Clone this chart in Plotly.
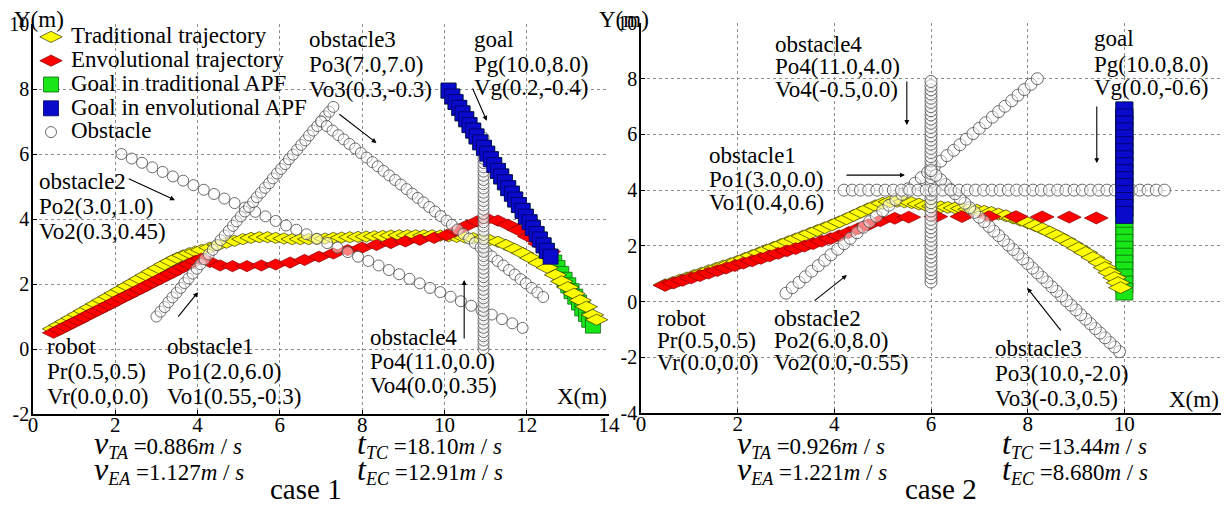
import plotly.graph_objects as go

# window is 1231x512; the html body adds an 8px margin on every side, so the figure is sized
# to fit inside the window without any scrolling
WIN_W, WIN_H, OFF = 1231, 512, 8
W, H = WIN_W - 2 * OFF, WIN_H - 2 * OFF

# ---------------- tick labels ----------------
C1_XTICKS = [0, 2, 4, 6, 8, 10, 12, 14]
C1_XTICK_LABELS = ["0", "2", "4", "6", "8", "10", "12", "14"]
C1_YTICKS = [-2, 0, 2, 4, 6, 8, 10]
C1_YTICK_LABELS = ["-2", "0", "2", "4", "6", "8", "10"]
C2_XTICKS = [0, 2, 4, 6, 8, 10, 12]
C2_XTICK_LABELS = ["0", "2", "4", "6", "8", "10", "12"]
C2_YTICKS = [-4, -2, 0, 2, 4, 6, 8, 10]
C2_YTICK_LABELS = ["-4", "-2", "0", "2", "4", "6", "8", "10"]

SERIES_NAMES = ["Traditional trajectory", "Envolutional trajectory",
                "Goal in traditional APF", "Goal in envolutional APF", "Obstacle"]

# ---------------- case 1 data ----------------
C1_TRAD_X = [0.50, 0.65, 0.80, 0.95, 1.10, 1.25, 1.40, 1.55, 1.70, 1.85, 2.00, 2.15, 2.30, 2.45, 2.60,
             2.75, 2.90, 3.05, 3.20, 3.35, 3.50, 3.65, 3.80, 3.95, 4.10, 4.30, 4.50, 4.70, 4.90, 5.10,
             5.30, 5.50, 5.70, 5.90, 6.10, 6.30, 6.50, 6.70, 6.90, 7.10, 7.30, 7.50, 7.70, 7.90, 8.10,
             8.30, 8.50, 8.70, 8.90, 9.10, 9.30, 9.50, 9.70, 9.90, 10.10, 10.30, 10.50, 10.70, 10.90,
             11.10, 11.30, 11.50, 11.70, 11.90, 12.10, 12.30, 12.50, 12.70, 12.85, 13.00, 13.15, 13.30,
             13.45, 13.60, 13.70]
C1_TRAD_Y = [0.62, 0.73, 0.84, 0.95, 1.06, 1.17, 1.28, 1.39, 1.50, 1.61, 1.72, 1.83, 1.94, 2.05, 2.16,
             2.27, 2.38, 2.49, 2.60, 2.70, 2.80, 2.88, 2.95, 3.00, 3.05, 3.12, 3.20, 3.27, 3.33, 3.38,
             3.42, 3.44, 3.44, 3.42, 3.40, 3.38, 3.38, 3.38, 3.39, 3.40, 3.42, 3.43, 3.44, 3.45, 3.46,
             3.47, 3.48, 3.49, 3.50, 3.50, 3.50, 3.50, 3.50, 3.49, 3.47, 3.45, 3.43, 3.41, 3.38,
             3.35, 3.30, 3.20, 3.08, 2.95, 2.80, 2.65, 2.50, 2.28, 2.08, 1.90, 1.70, 1.50,
             1.30, 1.05, 0.90]

C1_EVO_X = [0.50, 0.65, 0.80, 0.95, 1.10, 1.25, 1.40, 1.55, 1.70, 1.85, 2.00, 2.15, 2.30, 2.45, 2.60,
            2.75, 2.90, 3.05, 3.20, 3.35, 3.50, 3.65, 3.80, 3.95, 4.10, 4.30, 4.55, 4.85, 5.20, 5.55,
            5.90, 6.25, 6.60, 6.95, 7.30, 7.65, 8.00, 8.35, 8.70, 9.05, 9.40, 9.75, 10.05, 10.30, 10.55,
            10.80, 11.05, 11.30, 11.55, 11.80, 12.05, 12.30, 12.55]
C1_EVO_Y = [0.50, 0.60, 0.69, 0.79, 0.88, 0.98, 1.08, 1.17, 1.27, 1.36, 1.46, 1.56, 1.65, 1.75, 1.84,
            1.94, 2.04, 2.13, 2.23, 2.32, 2.42, 2.52, 2.61, 2.71, 2.78, 2.68, 2.57, 2.55, 2.55, 2.57,
            2.60, 2.66, 2.74, 2.84, 2.94, 3.04, 3.12, 3.20, 3.26, 3.31, 3.36, 3.42, 3.50, 3.65, 3.80,
            3.93, 4.00, 3.95, 3.82, 3.66, 3.46, 3.24, 3.00]

# goal path shared by both methods (evolutional APF stops at its end)
C1_GOAL_X = [10.10, 10.19, 10.27, 10.36, 10.44, 10.53, 10.61, 10.70, 10.78, 10.87, 10.96, 11.04, 11.13,
             11.21, 11.30, 11.38, 11.47, 11.55, 11.64, 11.72, 11.81, 11.90, 11.98, 12.07, 12.15, 12.24,
             12.32, 12.41, 12.49, 12.58]
C1_GOAL_Y = [7.95, 7.77, 7.60, 7.42, 7.25, 7.07, 6.89, 6.72, 6.54, 6.36, 6.19, 6.01, 5.84, 5.66, 5.48,
             5.31, 5.13, 4.95, 4.78, 4.60, 4.43, 4.25, 4.07, 3.90, 3.72, 3.54, 3.37, 3.19, 3.02, 2.84]
# further goal positions reached only in the traditional APF run
C1_GOAL_TRAD_EXTRA_X = [12.67, 12.75, 12.84, 12.92, 13.01, 13.09, 13.18, 13.27, 13.35, 13.44, 13.52, 13.61]
C1_GOAL_TRAD_EXTRA_Y = [2.66, 2.49, 2.31, 2.13, 1.96, 1.78, 1.61, 1.43, 1.25, 1.08, 0.90, 0.72]

C1_OBS1_X = [2.15, 2.40, 2.65, 2.90, 3.15, 3.40, 3.65, 3.90, 4.15, 4.40, 4.65, 4.90, 5.15, 5.40, 5.65,
             5.90, 6.15, 6.40, 6.65, 6.90, 7.15, 7.40, 7.65, 7.90, 8.15, 8.40, 8.65, 8.90, 9.15, 9.40,
             9.65, 9.90, 10.15, 10.40, 10.65, 10.90, 11.15, 11.40, 11.65, 11.90]
C1_OBS1_Y = [6.00, 5.86, 5.73, 5.59, 5.45, 5.31, 5.18, 5.04, 4.90, 4.77, 4.63, 4.49, 4.35, 4.22, 4.08,
             3.94, 3.80, 3.67, 3.53, 3.39, 3.26, 3.12, 2.98, 2.84, 2.71, 2.57, 2.43, 2.30, 2.16, 2.02,
             1.88, 1.75, 1.61, 1.47, 1.33, 1.20, 1.06, 0.92, 0.79, 0.65]
C1_OBS2_X = [3.00, 3.10, 3.20, 3.29, 3.39, 3.49, 3.59, 3.68, 3.78, 3.88, 3.98, 4.07, 4.17, 4.27, 4.37,
             4.47, 4.56, 4.66, 4.76, 4.86, 4.95, 5.05, 5.15, 5.25, 5.35, 5.44, 5.54, 5.64, 5.74, 5.83,
             5.93, 6.03, 6.13, 6.22, 6.32, 6.42, 6.52, 6.62, 6.71, 6.81, 6.91, 7.01, 7.10, 7.20, 7.30]
C1_OBS2_Y = [1.00, 1.15, 1.29, 1.44, 1.59, 1.73, 1.88, 2.03, 2.17, 2.32, 2.47, 2.61, 2.76, 2.91, 3.05,
             3.20, 3.35, 3.49, 3.64, 3.79, 3.93, 4.08, 4.23, 4.37, 4.52, 4.67, 4.81, 4.96, 5.10, 5.25,
             5.40, 5.54, 5.69, 5.84, 5.98, 6.13, 6.28, 6.42, 6.57, 6.72, 6.86, 7.01, 7.16, 7.30, 7.45]
C1_OBS3_X = [7.00, 7.14, 7.28, 7.42, 7.55, 7.69, 7.83, 7.97, 8.11, 8.25, 8.38, 8.52, 8.66, 8.80, 8.94,
             9.08, 9.22, 9.35, 9.49, 9.63, 9.77, 9.91, 10.05, 10.18, 10.32, 10.46, 10.60, 10.74, 10.88,
             11.02, 11.15, 11.29, 11.43, 11.57, 11.71, 11.85, 11.98, 12.12, 12.26, 12.40]
C1_OBS3_Y = [7.00, 6.86, 6.72, 6.58, 6.45, 6.31, 6.17, 6.03, 5.89, 5.75, 5.62, 5.48, 5.34, 5.20, 5.06,
             4.92, 4.78, 4.65, 4.51, 4.37, 4.23, 4.09, 3.95, 3.82, 3.68, 3.54, 3.40, 3.26, 3.12,
             2.98, 2.85, 2.71, 2.57, 2.43, 2.29, 2.15, 2.02, 1.88, 1.74, 1.60]
C1_OBS4_XPOS = 10.95
C1_OBS4_Y = [0.00, 0.13, 0.26, 0.39, 0.52, 0.65, 0.78, 0.91, 1.04, 1.17, 1.30, 1.43, 1.56, 1.69, 1.82,
             1.95, 2.08, 2.21, 2.34, 2.47, 2.60, 2.73, 2.86, 2.99, 3.12, 3.25, 3.38, 3.51, 3.64, 3.77,
             3.90, 4.03, 4.16, 4.29, 4.42, 4.55, 4.68, 4.81, 4.94, 5.07, 5.20, 5.33, 5.46, 5.59, 5.72,
             5.85, 5.98, 6.11, 6.24, 6.37, 6.50]

# ---------------- case 2 data ----------------
C2_TRAD_X = [0.50, 0.65, 0.80, 0.95, 1.10, 1.25, 1.40, 1.55, 1.70, 1.85, 2.00, 2.15, 2.30, 2.45, 2.60,
             2.75, 2.90, 3.05, 3.20, 3.35, 3.50, 3.65, 3.80, 3.95, 4.10, 4.25, 4.40, 4.55, 4.70, 4.85,
             5.00, 5.15, 5.30, 5.45, 5.60, 5.75, 5.90, 6.05, 6.20, 6.35, 6.50, 6.65, 6.80, 6.95, 7.10,
             7.25, 7.40, 7.55, 7.70, 7.85, 8.00, 8.15, 8.30, 8.45, 8.60, 8.75, 8.90, 9.05, 9.20, 9.35,
             9.50, 9.60, 9.70, 9.80, 9.87, 9.92]
C2_TRAD_Y = [0.60, 0.68, 0.77, 0.85, 0.94, 1.02, 1.11, 1.19, 1.28, 1.36, 1.45, 1.55, 1.65, 1.75, 1.85,
             1.95, 2.05, 2.15, 2.25, 2.35, 2.45, 2.55, 2.65, 2.75, 2.86, 2.97, 3.09, 3.21, 3.33, 3.44,
             3.53, 3.58, 3.60, 3.58, 3.55, 3.50, 3.45, 3.42, 3.40, 3.38, 3.36, 3.34, 3.31, 3.28, 3.24,
             3.20, 3.14, 3.08, 3.00, 2.92, 2.83, 2.73, 2.62, 2.50, 2.37, 2.23, 2.08, 1.92, 1.76, 1.58,
             1.40, 1.22, 1.04, 0.86, 0.68, 0.50]
C2_EVO_X = [0.50, 0.68, 0.86, 1.04, 1.22, 1.40, 1.58, 1.76, 1.94, 2.12, 2.30, 2.48, 2.66, 2.84, 3.02,
            3.20, 3.38, 3.56, 3.74, 3.92, 4.10, 4.30, 4.50, 4.70, 4.95, 5.25, 5.54, 6.10, 6.64, 7.20,
            7.76, 8.30, 8.86, 9.42]
C2_EVO_Y = [0.58, 0.67, 0.76, 0.85, 0.93, 1.02, 1.11, 1.20, 1.29, 1.38, 1.46, 1.55, 1.64, 1.73, 1.82,
            1.90, 1.99, 2.08, 2.17, 2.26, 2.36, 2.48, 2.62, 2.76, 2.90, 2.99, 3.03, 3.05, 3.05, 3.05,
            3.05, 3.04, 3.03, 3.00]
C2_GOAL_XPOS = 10.0
C2_GOAL_Y = [6.86, 6.61, 6.36, 6.11, 5.86, 5.61, 5.36, 5.11, 4.86, 4.61, 4.36, 4.11, 3.86, 3.61, 3.36, 3.11]
C2_GOAL_TRAD_EXTRA_Y = [2.86, 2.61, 2.36, 2.11, 1.86, 1.61, 1.36, 1.11, 0.86, 0.61, 0.36]

C2_OBS1_X = [3.00, 3.13, 3.27, 3.40, 3.53, 3.67, 3.80, 3.93, 4.07, 4.20, 4.33, 4.47, 4.60, 4.73, 4.87,
             5.00, 5.13, 5.27, 5.40, 5.53, 5.67, 5.80, 5.93, 6.07, 6.20, 6.33, 6.47, 6.60, 6.73, 6.87,
             7.00, 7.13, 7.27, 7.40, 7.53, 7.67, 7.80, 7.93, 8.07, 8.20]
C2_OBS1_Y = [0.30, 0.50, 0.69, 0.89, 1.09, 1.29, 1.48, 1.68, 1.88, 2.08, 2.27, 2.47, 2.67, 2.87, 3.06,
             3.26, 3.46, 3.66, 3.85, 4.05, 4.25, 4.45, 4.64, 4.84, 5.04, 5.24, 5.43, 5.63, 5.83, 6.03,
             6.22, 6.42, 6.62, 6.82, 7.01, 7.21, 7.41, 7.61, 7.80, 8.00]
C2_OBS2_XPOS = 6.0
C2_OBS2_Y = [0.70, 0.85, 1.00, 1.15, 1.30, 1.45, 1.60, 1.75, 1.90, 2.05, 2.20, 2.35, 2.50, 2.65, 2.80,
             2.95, 3.10, 3.25, 3.40, 3.55, 3.70, 3.85, 4.00, 4.15, 4.30, 4.45, 4.60, 4.75, 4.90, 5.05,
             5.20, 5.35, 5.50, 5.65, 5.80, 5.95, 6.10, 6.25, 6.40, 6.55, 6.70, 6.85, 7.00, 7.15, 7.30,
             7.45, 7.60, 7.75, 7.90]
C2_OBS3_X = [9.90, 9.80, 9.70, 9.60, 9.50, 9.40, 9.30, 9.20, 9.10, 9.00, 8.90, 8.80, 8.70, 8.60, 8.50,
             8.40, 8.30, 8.20, 8.10, 8.00, 7.90, 7.80, 7.70, 7.60, 7.50, 7.40, 7.30, 7.20, 7.10, 7.00,
             6.90, 6.80, 6.70, 6.60, 6.50, 6.40, 6.30, 6.20, 6.10, 6.00]
C2_OBS3_Y = [-1.80, -1.63, -1.47, -1.30, -1.13, -0.97, -0.80, -0.63, -0.47, -0.30, -0.13, 0.03, 0.20,
             0.37, 0.53, 0.70, 0.87, 1.03, 1.20, 1.37, 1.53, 1.70, 1.87, 2.03, 2.20, 2.37, 2.53, 2.70,
             2.87, 3.03, 3.20, 3.37, 3.53, 3.70, 3.87, 4.03, 4.20, 4.37, 4.53, 4.70]
C2_OBS4_X = [4.20, 4.37, 4.54, 4.71, 4.88, 5.05, 5.22, 5.39, 5.56, 5.73, 5.90, 6.07, 6.24, 6.41, 6.58,
             6.75, 6.92, 7.09, 7.26, 7.43, 7.60, 7.77, 7.94, 8.11, 8.28, 8.45, 8.62, 8.79, 8.96, 9.13,
             9.30, 9.47, 9.64, 9.81, 9.98, 10.15, 10.32, 10.49, 10.66, 10.83]
C2_OBS4_YPOS = 4.0

# ---------------- text ----------------
C1_LABELS = [
    ["obstacle3", "Po3(7.0,7.0)", "Vo3(0.3,-0.3)"],
    ["goal", "Pg(10.0,8.0)", "Vg(0.2,-0.4)"],
    ["obstacle2", "Po2(3.0,1.0)", "Vo2(0.3,0.45)"],
    ["robot", "Pr(0.5,0.5)", "Vr(0.0,0.0)"],
    ["obstacle1", "Po1(2.0,6.0)", "Vo1(0.55,-0.3)"],
    ["obstacle4", "Po4(11.0,0.0)", "Vo4(0.0,0.35)"],
]
C2_LABELS = [
    ["obstacle4", "Po4(11.0,4.0)", "Vo4(-0.5,0.0)"],
    ["goal", "Pg(10.0,8.0)", "Vg(0.0,-0.6)"],
    ["obstacle1", "Po1(3.0,0.0)", "Vo1(0.4,0.6)"],
    ["robot", "Pr(0.5,0.5)", "Vr(0.0,0.0)"],
    ["obstacle2", "Po2(6.0,8.0)", "Vo2(0.0,-0.55)"],
    ["obstacle3", "Po3(10.0,-2.0)", "Vo3(-0.3,0.5)"],
]
C1_STATS = {"vTA": "0.886", "vEA": "1.127", "tTC": "18.10", "tEC": "12.91"}
C2_STATS = {"vTA": "0.926", "vEA": "1.221", "tTC": "13.44", "tEC": "8.680"}
CASE_TITLES = ["case 1", "case 2"]

# ---------------- styling ----------------
SERIF = "Liberation Serif, Times New Roman, serif"
YELLOW, RED, GREEN, BLUE = "#FFFF00", "#FF0000", "#19E619", "#0A0ACD"
TXT = 23


def px(x):  # window pixel -> paper fraction
    return (x - OFF) / W


def py(y):
    return 1 - (y - OFF) / H


fig = go.Figure()


def legend_name(i):
    return "<span style='font-size:%dpx'>%s</span>" % (TXT, SERIES_NAMES[i])


def add_case(xa, ya, tx, ty, ex, ey, gx, gy, gex, gey, obs_x, obs_y, show, dsize, osize, gsize):
    # green goal (traditional) first, yellow, red, obstacles, blue goal on top
    fig.add_trace(go.Scatter(
        x=gx + gex, y=gy + gey, mode="markers", name=legend_name(2), legendrank=3,
        legendgroup="g", showlegend=show, xaxis=xa, yaxis=ya,
        marker=dict(symbol="square", size=gsize, color=GREEN, line=dict(color="#0A6A0A", width=0.8))))
    fig.add_trace(go.Scatter(
        x=tx, y=ty, mode="markers", name=legend_name(0), legendrank=1,
        legendgroup="t", showlegend=show, xaxis=xa, yaxis=ya,
        marker=dict(symbol="diamond-wide", size=dsize, color=YELLOW, line=dict(color="#333300", width=0.7))))
    fig.add_trace(go.Scatter(
        x=ex, y=ey, mode="markers", name=legend_name(1), legendrank=2,
        legendgroup="e", showlegend=show, xaxis=xa, yaxis=ya,
        marker=dict(symbol="diamond-wide", size=dsize, color=RED, line=dict(color="#8A0000", width=0.7))))
    for i, (ox, oy) in enumerate(zip(obs_x, obs_y)):
        fig.add_trace(go.Scatter(
            x=ox, y=oy, mode="markers", name=legend_name(4), legendrank=5,
            legendgroup="o", showlegend=(show and i == 0), xaxis=xa, yaxis=ya,
            marker=dict(symbol="circle", size=osize, color="rgba(255,255,255,0.5)",
                        line=dict(color="#5A5A5A", width=0.9))))
    fig.add_trace(go.Scatter(
        x=gx, y=gy, mode="markers", name=legend_name(3), legendrank=4,
        legendgroup="b", showlegend=show, xaxis=xa, yaxis=ya,
        marker=dict(symbol="square", size=gsize, color=BLUE, line=dict(color="#00005A", width=0.8))))


add_case("x", "y", C1_TRAD_X, C1_TRAD_Y, C1_EVO_X, C1_EVO_Y,
         C1_GOAL_X, C1_GOAL_Y, C1_GOAL_TRAD_EXTRA_X, C1_GOAL_TRAD_EXTRA_Y,
         [C1_OBS1_X, C1_OBS2_X, C1_OBS3_X, [C1_OBS4_XPOS] * len(C1_OBS4_Y)],
         [C1_OBS1_Y, C1_OBS2_Y, C1_OBS3_Y, C1_OBS4_Y], True, 16, 11, 15)
add_case("x2", "y2", C2_TRAD_X, C2_TRAD_Y, C2_EVO_X, C2_EVO_Y,
         [C2_GOAL_XPOS] * len(C2_GOAL_Y), C2_GOAL_Y,
         [C2_GOAL_XPOS] * len(C2_GOAL_TRAD_EXTRA_Y), C2_GOAL_TRAD_EXTRA_Y,
         [C2_OBS1_X, [C2_OBS2_XPOS] * len(C2_OBS2_Y), C2_OBS3_X, C2_OBS4_X],
         [C2_OBS1_Y, C2_OBS2_Y, C2_OBS3_Y, [C2_OBS4_YPOS] * len(C2_OBS4_X)], False, 17, 12, 17)

FONT = dict(family=SERIF, size=TXT, color="black")
ann = []

# label blocks: (left px, [line centers px]) in window pixels
C1_LABEL_POS = [(307, [40, 65, 90]), (472, [39, 64, 88]), (37, [181, 206, 231]),
                (45, [346, 371, 396]), (165, [346, 371, 396]), (368, [337, 361, 385])]
C2_LABEL_POS = [(773, [45, 67, 89]), (1092, [38, 64, 88]), (707, [155, 179, 203]),
                (655, [318, 340, 362]), (772, [318, 340, 362]), (993, [348, 373, 398])]
for labels, poss in ((C1_LABELS, C1_LABEL_POS), (C2_LABELS, C2_LABEL_POS)):
    for lines, (lx, ys) in zip(labels, poss):
        for t, yy in zip(lines, ys):
            ann.append(dict(x=px(lx), y=py(yy), xref="paper", yref="paper", text=t,
                            showarrow=False, xanchor="left", yanchor="middle", font=FONT))

# axis titles
for t, lx, yy, anchor in (("Y(m)", 12, 19, "left"), ("X(m)", 609, 396, "right"),
                          ("Y(m)", 597, 19, "left"), ("X(m)", 1221, 399, "right")):
    ann.append(dict(x=px(lx), y=py(yy), xref="paper", yref="paper", text=t, showarrow=False,
                    xanchor=anchor, yanchor="middle", font=FONT))


def stat(sym, sub, val):
    return ("<span style='font-size:32px'><i>%s</i></span><sub><span style='font-size:18px'><i>%s</i>"
            "</span></sub> =%s<i>m</i> / <i>s</i>" % (sym, sub, val))


SFONT = dict(family=SERIF, size=TXT, color="black")
for stats, lx_v, lx_t, cx_c, title in ((C1_STATS, 92, 355, 306, CASE_TITLES[0]),
                                       (C2_STATS, 735, 1000, 941, CASE_TITLES[1])):
    for key, lx, yy in (("vTA", lx_v, 444), ("vEA", lx_v, 470), ("tTC", lx_t, 444), ("tEC", lx_t, 470)):
        ann.append(dict(x=px(lx), y=py(yy), xref="paper", yref="paper", showarrow=False,
                        xanchor="left", yanchor="middle",
                        text=stat(key[0], key[1:], stats[key]), font=SFONT))
    ann.append(dict(x=px(cx_c), y=py(489), xref="paper", yref="paper", showarrow=False,
                    xanchor="center", yanchor="middle",
                    text=title, font=dict(family=SERIF, size=29, color="black")))

# arrows (tail -> head), in data coordinates of each panel
C1_ARROWS = [((7.41, 7.26), (8.35, 6.34)), ((2.29, 5.26), (3.45, 4.58)), ((10.67, 8.06), (11.03, 7.02)),
             ((3.50, 0.95), (4.01, 1.75)), ((10.48, 0.28), (10.48, 2.12))]
C2_ARROWS = [((5.50, 7.95), (5.50, 6.34)), ((4.22, 4.54), (5.46, 4.54)), ((3.56, -0.01), (4.26, 0.95)),
             ((9.43, 7.06), (9.43, 4.97)), ((8.71, -1.09), (7.99, 0.49))]
for arrows, xr, yr in ((C1_ARROWS, "x", "y"), (C2_ARROWS, "x2", "y2")):
    for (tx0, ty0), (hx, hy) in arrows:
        ann.append(dict(x=hx, y=hy, ax=tx0, ay=ty0, xref=xr, yref=yr, axref=xr, ayref=yr, text="",
                        showarrow=True, arrowhead=2, arrowsize=0.9, arrowwidth=1.1, arrowcolor="black"))

axis_common = dict(showgrid=True, griddash="dot", gridcolor="#8C8C8C", gridwidth=1, zeroline=False,
                   showline=True, linecolor="black", linewidth=1.5, ticks="inside", ticklen=4,
                   tickcolor="black", automargin=False)
xaxis_extra = dict(ticklabelstandoff=-9, tickfont=dict(family=SERIF, size=21, color="black"))
yaxis_extra = dict(ticklabelstandoff=-2, tickfont=dict(family=SERIF, size=20, color="black"))

fig.update_layout(
    width=W, height=H, margin=dict(l=0, r=0, t=0, b=0, pad=0, autoexpand=False),
    paper_bgcolor="white", plot_bgcolor="white",
    xaxis=dict(domain=[px(33), px(609)], range=[0, 14], tickvals=C1_XTICKS, ticktext=C1_XTICK_LABELS,
               anchor="y", **axis_common, **xaxis_extra),
    yaxis=dict(domain=[py(414), py(24)], range=[-2, 10], tickvals=C1_YTICKS, ticktext=C1_YTICK_LABELS,
               anchor="x", **axis_common, **yaxis_extra),
    xaxis2=dict(domain=[px(641), px(1221)], range=[0, 12], tickvals=C2_XTICKS, ticktext=C2_XTICK_LABELS,
                anchor="y2", **axis_common, **xaxis_extra),
    yaxis2=dict(domain=[py(413), py(23)], range=[-4, 10], tickvals=C2_YTICKS, ticktext=C2_YTICK_LABELS,
                anchor="x2", **axis_common, **yaxis_extra),
    legend=dict(x=px(31), y=py(20), xanchor="left", yanchor="top", bgcolor="rgba(0,0,0,0)",
                font=dict(family=SERIF, size=16, color="black"), traceorder="normal",
                itemwidth=30, borderwidth=0),
    annotations=ann,
    showlegend=True,
)

fig.write_html("out.html")
